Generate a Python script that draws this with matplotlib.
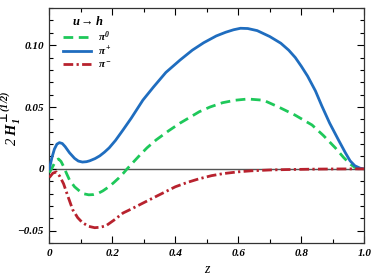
import matplotlib
matplotlib.use("Agg")
import matplotlib.pyplot as plt
from matplotlib.ticker import MultipleLocator

plt.rcParams['font.family'] = ['Liberation Serif', 'DejaVu Serif']
plt.rcParams['font.weight'] = 'bold'
plt.rcParams['font.style'] = 'italic'
plt.rcParams['mathtext.fontset'] = 'custom'
plt.rcParams['mathtext.rm'] = 'Liberation Serif:bold:italic'
plt.rcParams['mathtext.it'] = 'Liberation Serif:bold:italic'
plt.rcParams['mathtext.bf'] = 'Liberation Serif:bold:italic'
plt.rcParams['mathtext.sf'] = 'DejaVu Serif:bold'

# pi+ (blue solid)
z_plus = [0.0, 0.008, 0.016, 0.024, 0.032, 0.041, 0.05, 0.064, 0.08, 0.092, 0.105, 0.118, 0.128,
          0.145, 0.16, 0.175, 0.19, 0.21, 0.234, 0.26, 0.297, 0.33, 0.37, 0.415, 0.454, 0.49,
          0.53, 0.56, 0.585, 0.607, 0.63, 0.66, 0.7, 0.735, 0.76, 0.781, 0.8, 0.82, 0.845,
          0.865, 0.89, 0.918, 0.94, 0.955, 0.97, 0.987, 1.0]
h_plus = [0.0, 0.009, 0.016, 0.020, 0.0212, 0.0205, 0.018, 0.013, 0.0085, 0.0063, 0.0055, 0.0058, 0.0065,
          0.0083, 0.0105, 0.0135, 0.017, 0.023, 0.0315, 0.041, 0.0556, 0.066, 0.078, 0.088, 0.096, 0.102,
          0.1075, 0.1105, 0.1125, 0.1137, 0.1135, 0.1118, 0.107, 0.1016, 0.096, 0.090, 0.083, 0.075, 0.063,
          0.051, 0.037, 0.0234, 0.013, 0.0065, 0.0025, 0.0005, 0.0]

# pi0 (green dashed)
z_zero = [0.0, 0.008, 0.015, 0.022, 0.029, 0.037, 0.045, 0.055, 0.064, 0.08, 0.096, 0.11, 0.125,
          0.14, 0.155, 0.17, 0.19, 0.205, 0.22, 0.235, 0.247, 0.265, 0.287, 0.31, 0.339, 0.38,
          0.415, 0.445, 0.476, 0.51, 0.55, 0.59, 0.63, 0.68, 0.728, 0.78, 0.834, 0.87, 0.908,
          0.935, 0.955, 0.97, 0.985, 1.0]
h_zero = [-0.003, 0.0005, 0.004, 0.0068, 0.008, 0.006, 0.002, -0.004, -0.009, -0.0145, -0.018, -0.0202, -0.021,
          -0.0208, -0.0198, -0.0178, -0.0143, -0.0110, -0.0075, -0.0035, 0.0, 0.005, 0.011, 0.017, 0.0234, 0.031,
          0.037, 0.0415, 0.0462, 0.050, 0.0535, 0.0555, 0.0565, 0.0555, 0.050, 0.0435, 0.0355, 0.027, 0.017,
          0.009, 0.004, 0.0012, 0.0002, 0.0]

# pi- (red dash-dot)
z_minus = [0.0, 0.011, 0.022, 0.033, 0.045, 0.06, 0.074, 0.09, 0.105, 0.125, 0.144, 0.162, 0.18,
           0.205, 0.234, 0.26, 0.287, 0.339, 0.4, 0.44, 0.476, 0.515, 0.553, 0.6, 0.64, 0.7, 0.75,
           0.8, 0.85, 0.9, 1.0]
h_minus = [-0.007, -0.0035, -0.0025, -0.006, -0.012, -0.023, -0.033, -0.0395, -0.0435, -0.0465, -0.0476, -0.0472, -0.046,
           -0.0415, -0.0357, -0.0325, -0.029, -0.0223, -0.0145, -0.0108, -0.008, -0.0055, -0.0038, -0.0024, -0.0016, -0.0009, -0.0006,
           -0.0004, -0.0002, -0.0001, 0.0]

y_ticks = [-0.05, 0.0, 0.05, 0.10]
y_ticklabels = ['\u22120.05', '0', '0.05', '0.10']
x_ticks = [0.0, 0.2, 0.4, 0.6, 0.8, 1.0]
x_ticklabels = ['0', '0.2', '0.4', '0.6', '0.8', '1.0']

fig = plt.figure(figsize=(3.74, 2.80), dpi=100)
ax = fig.add_axes([0.132, 0.132, 0.842, 0.839])

ax.axhline(0, color='#555555', lw=1.0, zorder=1)
ax.plot(z_zero, h_zero, color='#1ec85a', lw=2.0, ls=(0, (3.5, 2.0)), label=r'$\pi^0$', zorder=3)
ax.plot(z_plus, h_plus, color='#1f6dbf', lw=2.0, ls='-', label=r'$\pi^+$', zorder=3)
ax.plot(z_minus, h_minus, color='#b8222e', lw=2.0, ls=(0, (3.5, 1.2, 0.8, 1.2)), label=r'$\pi^-$', zorder=3)

ax.set_xlim(0, 1.0)
ax.set_ylim(-0.06, 0.13)
ax.set_xticks(x_ticks)
ax.set_xticklabels(x_ticklabels)
ax.set_yticks(y_ticks)
ax.set_yticklabels(y_ticklabels)
ax.xaxis.set_minor_locator(MultipleLocator(0.1))
ax.yaxis.set_minor_locator(MultipleLocator(0.01))
ax.tick_params(which='both', direction='in', top=True, right=True, labelsize=8, pad=4)
ax.tick_params(which='major', length=5, width=0.8)
ax.tick_params(which='minor', length=3, width=0.8)
for s in ax.spines.values():
    s.set_linewidth(0.9)
    s.set_color('#333333')

ax.set_xlabel('z', fontsize=10, labelpad=4)
ax.set_ylabel('2 $H_1^{\\mathsf{\u22a5}\\,(1/2)}$', fontsize=10.5)
ax.yaxis.set_label_coords(-0.085, 0.53)

leg = ax.legend(loc='upper left', title=r'u$\rightarrow$h', frameon=False, fontsize=8,
                title_fontsize=9, handlelength=2.5, borderaxespad=0.0,
                bbox_to_anchor=(0.03, 0.99), labelspacing=0.1, handletextpad=0.6)
leg.get_title().set_fontweight('bold')
leg.get_title().set_fontstyle('italic')

fig.savefig('out.png', dpi=100)
